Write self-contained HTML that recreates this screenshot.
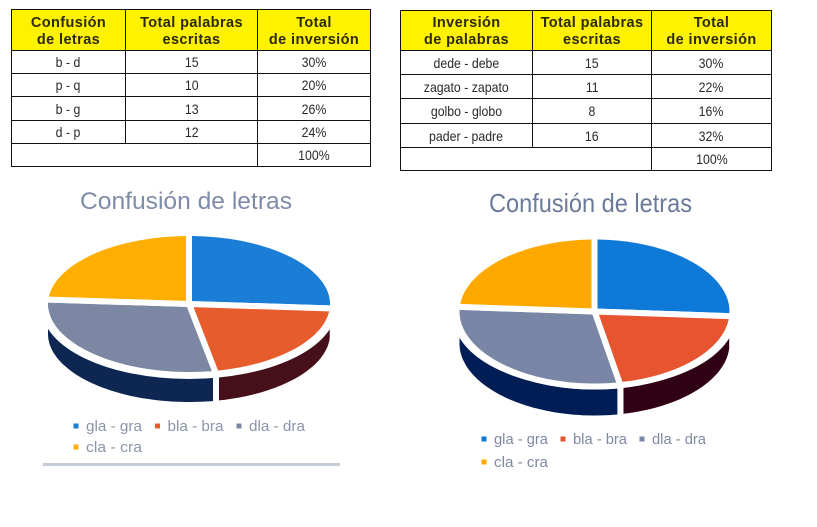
<!DOCTYPE html>
<html lang="es">
<head>
<meta charset="utf-8">
<title>Confusión de letras</title>
<style>
html,body{margin:0;padding:0;background:#fff;}
body{width:817px;height:527px;overflow:hidden;position:relative;font-family:"Liberation Sans",sans-serif;}
table{position:absolute;border-collapse:collapse;table-layout:fixed;color:#2a2a2a;}
td,th{border:1px solid #111;padding:0;text-align:center;font-size:14px;font-weight:normal;line-height:16px;}
td span{display:inline-block;transform:scaleX(.88);white-space:nowrap;position:relative;top:0;}
th{background:#fff200;font-weight:bold;font-size:14.5px;line-height:17px;color:#2b2a10;letter-spacing:.4px;padding-top:3px;box-sizing:border-box;}
#chart{position:absolute;left:0;top:0;}
</style>
</head>
<body>

<table style="left:11px;top:9px;width:359px;height:157px">
<colgroup><col style="width:114px"><col style="width:132px"><col style="width:113px"></colgroup>
<tr style="height:41px"><th>Confusión<br>de letras</th><th>Total palabras<br>escritas</th><th>Total<br>de inversión</th></tr>
<tr style="height:23px"><td><span>b - d</span></td><td><span>15</span></td><td><span>30%</span></td></tr>
<tr style="height:23px"><td><span>p - q</span></td><td><span>10</span></td><td><span>20%</span></td></tr>
<tr style="height:24px"><td><span>b - g</span></td><td><span>13</span></td><td><span>26%</span></td></tr>
<tr style="height:23px"><td><span>d - p</span></td><td><span>12</span></td><td><span>24%</span></td></tr>
<tr style="height:23px"><td colspan="2"></td><td><span>100%</span></td></tr>
</table>

<table style="left:400px;top:10px;width:371px;height:160px">
<colgroup><col style="width:132px"><col style="width:119px"><col style="width:120px"></colgroup>
<tr style="height:40px"><th>Inversión<br>de palabras</th><th>Total palabras<br>escritas</th><th>Total<br>de inversión</th></tr>
<tr style="height:24px"><td><span>dede - debe</span></td><td><span>15</span></td><td><span>30%</span></td></tr>
<tr style="height:24px"><td><span>zagato - zapato</span></td><td><span>11</span></td><td><span>22%</span></td></tr>
<tr style="height:25px"><td><span>golbo - globo</span></td><td><span>8</span></td><td><span>16%</span></td></tr>
<tr style="height:24px"><td><span>pader - padre</span></td><td><span>16</span></td><td><span>32%</span></td></tr>
<tr style="height:23px"><td colspan="2"></td><td><span>100%</span></td></tr>
</table>

<svg id="chart" width="817" height="527" viewBox="0 0 817 527" xmlns="http://www.w3.org/2000/svg"></svg>

<script>
// Chart data
var categories = ['gla - gra', 'bla - bra', 'dla - dra', 'cla - cra'];
var leftValues = [26, 21, 29, 24];
var rightValues = [26, 21, 29, 24];
var chartTitle = 'Confusión de letras';

var svg = document.getElementById('chart');
var NS = 'http://www.w3.org/2000/svg';

function make(tag, attrs, parent) {
  var el = document.createElementNS(NS, tag);
  for (var k in attrs) el.setAttribute(k, attrs[k]);
  parent.appendChild(el);
  return el;
}

function pointAt(g, deg, dy) {
  var t = deg * Math.PI / 180;
  return [g.cx + g.rx * Math.sin(t), g.cy + (dy || 0) - g.ry * Math.cos(t)];
}

function arcPoints(g, a, b, dy) {
  var pts = [];
  var n = Math.max(2, Math.ceil(Math.abs(b - a) / 2));
  for (var i = 0; i <= n; i++) {
    pts.push(pointAt(g, a + (b - a) * i / n, dy));
  }
  return pts;
}

function toPath(pts) {
  return 'M' + pts.map(function (p) { return p[0].toFixed(1) + ' ' + p[1].toFixed(1); }).join('L') + 'Z';
}

function drawPie(g, values, id) {
  var group = make('g', {}, svg);
  
  

  var title = make('text', {
    x: g.titleX, y: g.titleY, 'font-size': g.titleSize, fill: g.titleColor,
    'font-family': '"Liberation Sans", sans-serif', textLength: g.titleW, lengthAdjust: 'spacingAndGlyphs'
  }, group);
  title.textContent = chartTitle;
  
  

  var total = values.reduce(function (s, v) { return s + v; }, 0);
  var spans = [];
  var start = 0;
  values.forEach(function (v) {
    var end = start + v / total * 360;
    spans.push([start, end]);
    start = end;
  });

  // extruded side walls (only the part facing the viewer)
  spans.forEach(function (s, i) {
    var a = Math.max(s[0], 90);
    var b = Math.min(s[1], 270);
    if (b <= a) return;
    var pts = arcPoints(g, a, b, g.depth).concat(arcPoints(g, b, a, 0));
    var side = make('path', { d: toPath(pts), fill: g.dark[i], stroke: '#fff', 'stroke-width': g.gap }, group);
    
    
  });

  // white band between the top face and the side wall
  var band = make('ellipse', { cx: g.cx, cy: g.maskCy, rx: g.maskRx, ry: g.maskRy, fill: '#fff' }, group);
  
  

  // top slices
  spans.forEach(function (s, i) {
    var pts = [[g.cx, g.cy]].concat(arcPoints(g, s[0], s[1], 0));
    var slice = make('path', { d: toPath(pts), fill: g.colors[i], stroke: '#fff', 'stroke-width': g.gap, 'stroke-linejoin': 'miter' }, group);
    
    
  });

  // legend
  categories.forEach(function (c, i) {
    var row = i < 3 ? 0 : 1;
    var col = i < 3 ? i : 0;
    var x = g.legendX + col * g.legendStep;
    var y = g.legendY + row * g.legendRow;
    var entry = make('g', {}, group);
    
    
    make('rect', { x: x - 2.5, y: y - 7.5, width: 5, height: 5, fill: g.colors[i] }, entry);
    var label = make('text', {
      x: x + 10, y: y, 'font-size': 15, fill: g.legendColor,
      'font-family': '"Liberation Sans", sans-serif', textLength: g.legendW, lengthAdjust: 'spacingAndGlyphs'
    }, entry);
    label.textContent = c;
  });
}

drawPie({
  cx: 189, cy: 304, rx: 144, ry: 71, depth: 30, gap: 6,
  maskCy: 309, maskRx: 147, maskRy: 70,
  colors: ['#1b7ed6', '#e65c2d', '#7b87a3', '#ffae03'],
  dark: ['#0d2752', '#46101b', '#0d2752', '#0d2752'],
  titleX: 80, titleY: 209, titleSize: 24, titleW: 212, titleColor: '#7f8ca8',
  legendColor: '#8a94ab', legendW: 56, legendX: 76, legendY: 431, legendStep: 81.5, legendRow: 21
}, leftValues, 'left');

drawPie({
  cx: 594.5, cy: 311.5, rx: 138, ry: 75, depth: 32, gap: 6,
  maskCy: 317, maskRx: 141, maskRy: 72,
  colors: ['#0f79d8', '#e65430', '#7a86a6', '#ffa900'],
  dark: ['#001d55', '#300015', '#001d55', '#001d55'],
  titleX: 489, titleY: 212, titleSize: 26, titleW: 203, titleColor: '#6a7a98',
  legendColor: '#7d89a3', legendW: 54, legendX: 484, legendY: 444, legendStep: 79, legendRow: 23
}, rightValues, 'right');

var rule = make('rect', { x: 43, y: 463, width: 297, height: 3, fill: '#c5ccd6' }, svg);


</script>
</body>
</html>
